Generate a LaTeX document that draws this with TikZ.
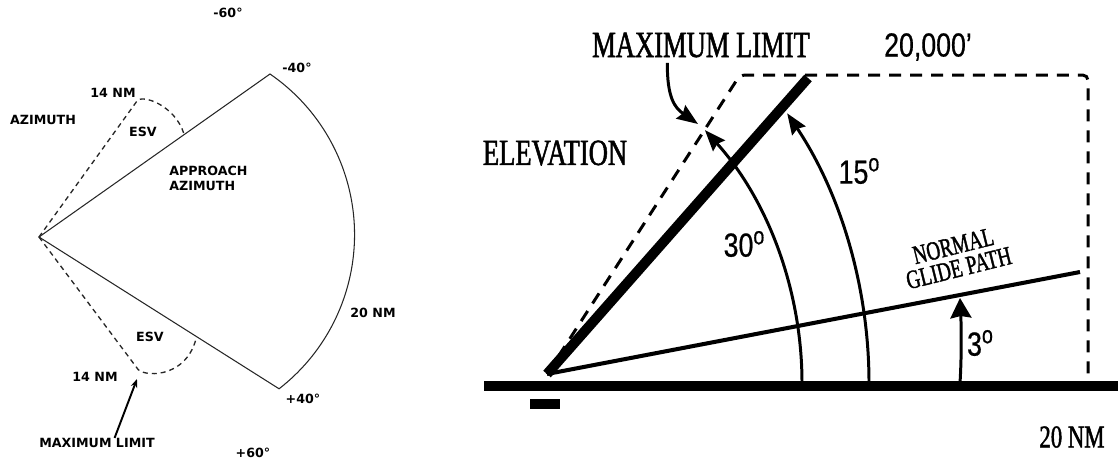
\documentclass[tikz,border=0pt]{standalone}
\usepackage{fontspec}
\usetikzlibrary{arrows.meta,positioning}
\newfontfamily\azFont{DejaVu Sans}
\newfontfamily\elFont[FakeStretch=0.72, FakeBold=1.4]{Liberation Serif}
\newfontfamily\degFont[FakeStretch=0.8, FakeBold=0.6]{Liberation Sans}
\newcommand{\degmark}{\raisebox{0.7ex}{\fontsize{14}{14}\selectfont o}}

\begin{document}
\begin{tikzpicture}[
        x=0.02cm,
        y=-0.02cm,
        azLabel/.style={
            font=\azFont\bfseries\fontsize{7.2}{8.5}\selectfont,
            inner sep=0pt
        },
        elLabel/.style={
            font=\elFont\fontsize{21}{23}\selectfont,
            inner sep=0pt
        },
        degLabel/.style={
            font=\degFont\fontsize{19}{21}\selectfont,
            inner sep=0pt
        },
        glideLabel/.style={
            font=\elFont\fontsize{15}{13}\selectfont,
            align=center,
            inner sep=0pt
        },
        sectorLine/.style={
            draw=black!85,
            line width=0.6pt
        },
        esvLine/.style={
            draw=black!85,
            line width=0.75pt,
            dash pattern=on 0.1cm off 0.08cm
        },
        smallArrow/.style={
            -{Stealth[length=0.17cm, width=0.13cm]},
            line width=1.1pt
        },
        limitDash/.style={
            line width=1.7pt,
            dash pattern=on 0.24cm off 0.18cm,
            rounded corners=3
        },
        beamLine/.style={
            line width=5.7pt
        },
        glideLine/.style={
            line width=2.3pt
        },
        groundLine/.style={
            line width=5.7pt
        },
        angleArrow/.style={
            -{Stealth[length=0.42cm, width=0.32cm, inset=0.05cm]},
            line width=1.7pt
        },
        wideArrow/.style={
            -{Stealth[length=0.4cm, width=0.42cm, inset=0.04cm]},
            line width=1.7pt
        }
    ]
        \useasboundingbox (0,0) rectangle (1118,461);

        % Azimuth view
        \coordinate (apex) at (39,237);
        \coordinate (esvTopPeak) at (137,101);
        \coordinate (esvTopEnd) at (184,134);
        \coordinate (esvBotPeak) at (137,368);
        \coordinate (esvBotEnd) at (196,339);
        \coordinate (limitLeftTip) at (137,379);

        \draw[sectorLine] (apex) -- (270,74) coordinate (topCorner)
            arc[start angle=-55.5, end angle=52.2, radius=195]
            coordinate (botCorner) -- cycle;

        \draw[esvLine] (apex) -- (esvTopPeak)
            .. controls (142,94) and (175,105) .. (esvTopEnd);
        \draw[esvLine] (apex) -- (esvBotPeak)
            .. controls (141,377) and (185,380) .. (esvBotEnd);

        \node[azLabel] (minusSixty) at (228,13) {-60°};
        \node[azLabel] (minusForty) at (297,68) {-40°};
        \node[azLabel] (nmTop) at (113,93) {14 NM};
        \node[azLabel] (azimuthTitle) at (43,120) {AZIMUTH};
        \node[azLabel] (esvTop) at (143,132) {ESV};
        \node[azLabel, align=left, anchor=west] (approachAz) at (169,178)
            {APPROACH\\AZIMUTH};
        \node[azLabel] (rangeLeft) at (373,313) {20 NM};
        \node[azLabel] (esvBottom) at (150,337) {ESV};
        \node[azLabel] (nmBottom) at (95,377) {14 NM};
        \node[azLabel] (plusForty) at (303,399) {+40°};
        \node[azLabel] (limitLeft) at (97,443) {MAXIMUM LIMIT};
        \node[azLabel] (plusSixty) at (253,453) {+60°};

        \draw[smallArrow] ([xshift=10pt]limitLeft.north) -- (limitLeftTip);

        % Elevation view
        \coordinate (origin) at (547,374);
        \coordinate (boxCorner) at (740,75);
        \coordinate (boxTopRight) at (1088,75);
        \coordinate (boxFoot) at (1088,386);
        \coordinate (beamEnd) at (808,78);
        \coordinate (glideEnd) at (1080,272);
        \coordinate (groundStart) at (484,386);
        \coordinate (groundEnd) at (1118,386);
        \coordinate (foot30) at (802,383);
        \coordinate (foot15) at (869,383);
        \coordinate (foot3) at (960,383);
        \coordinate (tip3) at (960,298);
        \coordinate (limitRightTip) at (698,124);

        \draw[limitDash] (origin) -- (boxCorner) -- (boxTopRight) -- (boxFoot);
        \draw[glideLine] (origin) -- (glideEnd);
        \draw[beamLine] (origin) -- (beamEnd);

        \draw[angleArrow] (foot30) arc[start angle=0, end angle=-42, radius=378];
        \draw[angleArrow] (foot15) arc[start angle=0, end angle=-33.75, radius=485.5];
        \draw[wideArrow] (foot3) .. controls (962,350) and (961,320) .. (tip3);

        \draw[groundLine] (groundStart) -- (groundEnd);
        \fill (530,399) rectangle (560,409);

        \node[elLabel] (limitRight) at (701,45) {MAXIMUM LIMIT};
        \node[degLabel] (ceiling) at (928,47) {20,000’};
        \node[elLabel] (elevTitle) at (555,153) {ELEVATION};
        \node[degLabel] (angle15) at (859,171) {15\degmark};
        \node[degLabel] (angle30) at (744,244) {30\degmark};
        \node[degLabel] (angle3) at (980,343) {3\degmark};
        \node[glideLabel, rotate=14] (glideText) at (956,257) {NORMAL\\GLIDE PATH};
        \node[elLabel, font=\elFont\fontsize{18}{20}\selectfont] (rangeRight)
            at (1072,437) {20 NM};

        \draw[angleArrow] ([xshift=43pt, yshift=-3pt]limitRight.south west)
            .. controls (667,98) and (675,108) .. (limitRightTip);

    \end{tikzpicture}
\end{document}
